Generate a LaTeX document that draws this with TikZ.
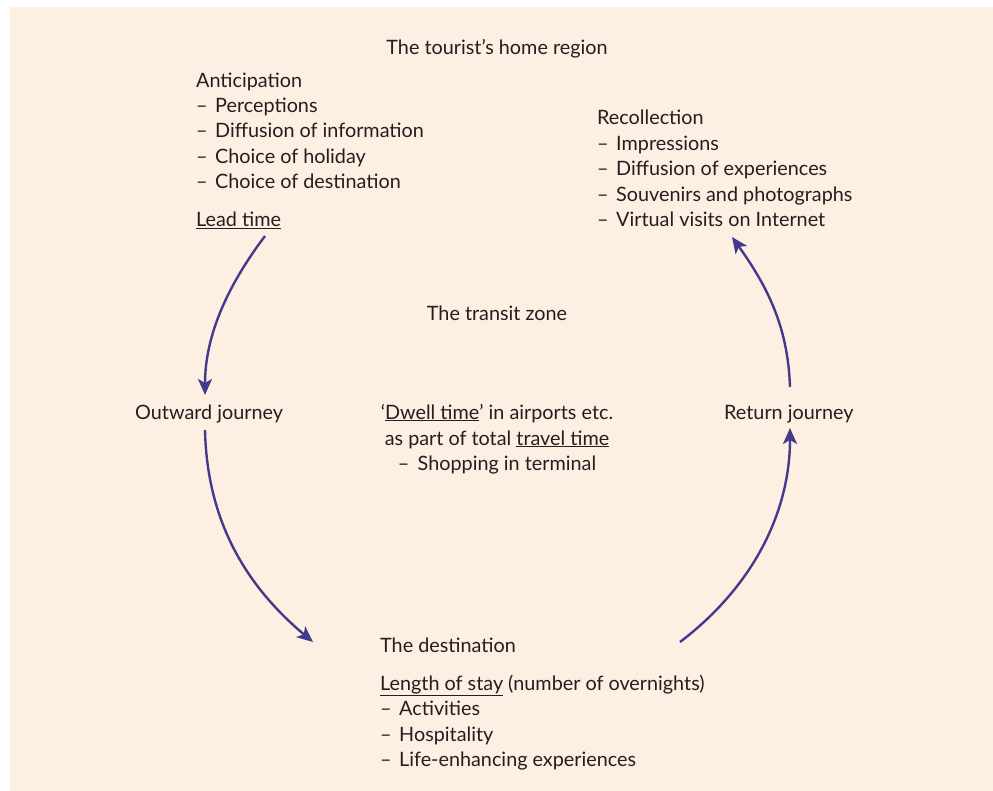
\documentclass[tikz,border=0pt]{standalone}
\usepackage{fontspec}
\setmainfont{Lato}
\usetikzlibrary{arrows.meta}
\definecolor{paper}{HTML}{FDEFE1}
\definecolor{ink}{HTML}{231F20}
\definecolor{flow}{HTML}{433A8E}
\tikzset{
  txt/.style={anchor=base west, inner sep=0pt, text=ink, font=\fontsize{19.8}{24}\selectfont},
  ctxt/.style={anchor=base, inner sep=0pt, text=ink, font=\fontsize{19.8}{24}\selectfont, align=center},
  flowarrow/.style={draw=flow, line width=2.4pt, -{Stealth[length=16pt,width=14pt,inset=4pt]}}
}
\newcommand{\ul}[1]{\underline{#1}}
\newcommand{\dashitem}[1]{\makebox[19pt][l]{–}#1}
\begin{document}
\begin{tikzpicture}[x=1pt,y=-1pt]
\useasboundingbox (0,0) rectangle (993,791);
\fill[paper] (10,7) rectangle (993,791);

% home region
\node[ctxt] (home) at (497,55) {The tourist’s home region};
\node[txt] (antic) at (196,87.5) {Anticipation};
\node[txt] (a1) at (196,112.5) {\dashitem{Perceptions}};
\node[txt] (a2) at (196,138) {\dashitem{Diffusion of information}};
\node[txt] (a3) at (196,163.5) {\dashitem{Choice of holiday}};
\node[txt] (a4) at (196,189) {\dashitem{Choice of destination}};
\node[txt] (lead) at (196,227) {\ul{Lead time}};

\node[txt] (recoll) at (597,125) {Recollection};
\node[txt] (r1) at (597,151) {\dashitem{Impressions}};
\node[txt] (r2) at (597,176) {\dashitem{Diffusion of experiences}};
\node[txt] (r3) at (597,202) {\dashitem{Souvenirs and photographs}};
\node[txt] (r4) at (597,227) {\dashitem{Virtual visits on Internet}};

% transit zone
\node[ctxt] (transit) at (497,321) {The transit zone};
\node[txt] (outward) at (135,419) {Outward journey};
\node[txt] (return) at (724,419) {Return journey};
\node[ctxt] (dwell) at (497,419) {‘\ul{Dwell time}’ in airports etc.};
\node[ctxt] (dwell2) at (497,445) {as part of total \ul{travel time}};
\node[ctxt] (dwell3) at (497,470) {– \,Shopping in terminal};

% destination
\node[txt] (dest) at (380,652) {The destination};
\node[txt] (stay) at (380,690) {\ul{Length of stay} (number of overnights)};
\node[txt] (d1) at (380,715) {\dashitem{Activities}};
\node[txt] (d2) at (380,741) {\dashitem{Hospitality}};
\node[txt] (d3) at (380,766) {\dashitem{Life-enhancing experiences}};

% ends of the four journey arrows
\coordinate (leadEnd) at (265,236);
\coordinate (outTop) at (205,395);
\coordinate (outBot) at (205,430);
\coordinate (destIn) at (313,642);
\coordinate (destOut) at (680,642);
\coordinate (retBot) at (790,428);
\coordinate (retTop) at (790,387);
\coordinate (recollIn) at (732,237);

\draw[flowarrow] (leadEnd) .. controls (228,285) and (205,335) .. (outTop);
\draw[flowarrow] (outBot) .. controls (207,520) and (245,585) .. (destIn);
\draw[flowarrow] (destOut) .. controls (755,585) and (790,510) .. (retBot);
\draw[flowarrow] (retTop) .. controls (788,330) and (770,290) .. (recollIn);
\end{tikzpicture}
\end{document}
